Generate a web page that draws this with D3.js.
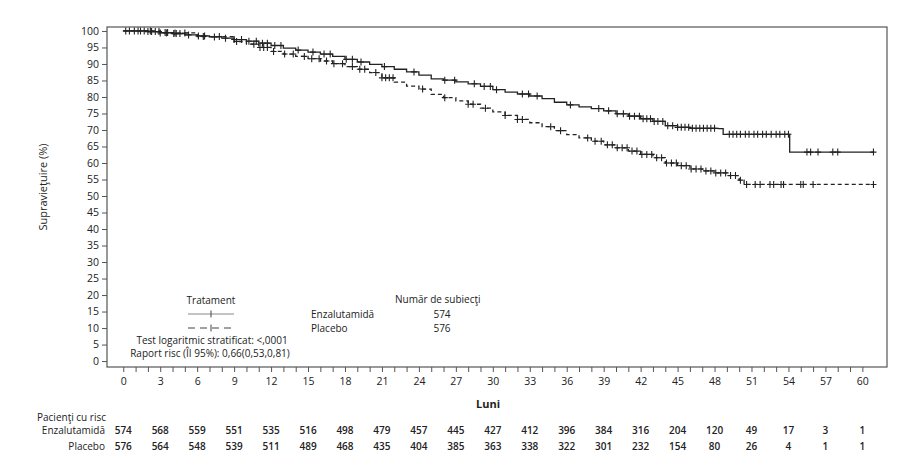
<!DOCTYPE html>
<html>
<head>
<meta charset="utf-8">
<script src="https://cdn.jsdelivr.net/npm/d3@7"></script>
<style>
  body { margin: 0; background: #fff; }
  text { font-family: "Open Sans", "Noto Sans", sans-serif; fill: #222; }
</style>
</head>
<body>
<div id="chart"></div>
<script>
// Kaplan-Meier steps: [month, survival %]
var enzaSteps = [[0,100],[1,100],[2,99.8],[3,99.5],[4,99.2],[5,98.8],[6,98.5],[7,98.2],[8,97.8],[9,97.4],[10,96.9],[11,96.3],[12,95.6],[13,94.8],[14,94.2],[15,93.6],[16,93.0],[17,92.3],[18,91.4],[19,90.6],[20,89.9],[21,89.2],[22,88.4],[23,87.6],[24,86.6],[25,85.5],[26,85.1],[27,84.6],[28,84.0],[29,83.2],[30,82.2],[31,81.5],[32,80.9],[33,80.3],[34,79.5],[35,78.4],[36,77.6],[37,77.0],[38,76.5],[39,75.8],[40,74.9],[41,74.2],[42,73.4],[43,72.6],[44,71.3],[45,70.8],[46,70.5],[48.3,70.4],[48.7,68.7],[54.1,63.3],[60.9,63.3]];
var placeboSteps = [[0,100],[3,99.4],[6,98.3],[9,96.8],[10,96.0],[11,95.0],[12,93.8],[13,93.0],[14,92.3],[15,91.6],[16,90.9],[17,90.1],[18,89.2],[19,88.4],[20,87.4],[21,85.8],[22,84.5],[23,83.3],[24,82.4],[25,80.8],[26,79.8],[27,78.8],[28,77.8],[29,76.6],[30,75.5],[31,74.4],[32,73.2],[33,72.2],[34,71.0],[35,69.8],[36,68.6],[37,67.6],[38,66.6],[39,65.5],[40,64.6],[41,63.6],[42,62.6],[43,61.6],[44,60.0],[45,59.2],[46,58.2],[47,57.6],[48,57.0],[49,56.2],[50,54.8],[50.4,53.5],[60.9,53.5]];

// censor times (months)
var enzaCensor = [0.2,0.9,1.4,1.7,2.0,2.3,2.6,2.9,3.4,3.6,4.1,4.3,4.6,5.3,6.1,6.6,7.4,8.3,9.0,9.6,10.2,10.8,11.3,11.7,12.3,12.8,14.2,15.4,16.3,16.8,18.1,18.6,19.3,21.2,23.6,26.1,26.9,28.5,29.3,29.8,30.3,32.4,32.9,33.6,36.3,38.6,39.4,40.1,40.6,41.1,41.5,41.9,42.2,42.5,42.8,43.1,43.4,43.8,44.2,44.6,45.0,45.3,45.6,45.9,46.2,46.5,46.8,47.1,47.4,47.7,48.0,49.2,49.5,49.8,50.1,50.5,50.8,51.2,51.5,51.9,52.2,52.6,53.0,53.3,53.7,54.0,55.5,55.8,56.4,57.6,58.0,60.9];
var placeboCensor = [0.5,1.2,2.2,3.0,3.5,4.2,5.0,6.5,7.8,9.2,10.6,11.1,11.4,11.7,12.2,13.1,13.8,14.7,15.3,15.9,16.5,17.1,17.8,18.6,19.2,19.6,20.5,21.0,21.3,21.6,21.9,24.3,26.1,28.0,28.4,29.4,31.0,32.0,32.4,34.7,35.5,37.7,38.3,38.8,39.3,39.7,40.1,40.5,40.9,41.3,41.7,42.1,42.5,42.9,43.3,43.7,44.1,44.5,44.9,45.3,45.7,46.1,46.5,46.9,47.3,47.7,48.1,48.5,48.9,49.3,49.7,50.1,50.6,51.3,51.7,52.5,52.8,53.4,53.6,55.0,55.2,56.0,60.9];

var riskMonths = [0,3,6,9,12,15,18,21,24,27,30,33,36,39,42,45,48,51,54,57,60];
var enzaRisk = [574,568,559,551,535,516,498,479,457,445,427,412,396,384,316,204,120,49,17,3,1];
var placeboRisk = [576,564,548,539,511,489,468,435,404,385,363,338,322,301,232,154,80,26,4,1,1];
var groups = ["Enzalutamidă", "Placebo"];
var groupN = [574, 576];

var W = 920, H = 475;
var svg = d3.select("#chart").append("svg").attr("width", W).attr("height", H);

var x = d3.scaleLinear().domain([-1.32, 62.0]).range([107, 887]);
var y = d3.scaleLinear().domain([-1.8, 101.2]).range([367, 27]);

// frame
svg.append("rect")
  .attr("x", 107).attr("y", 27).attr("width", 780).attr("height", 340)
  .attr("fill", "none").attr("stroke", "#555").attr("stroke-width", 1.2);

// y axis
var yAxis = svg.append("g").attr("transform", "translate(107,0)")
  .call(d3.axisLeft(y).tickValues(d3.range(0, 101, 5)).tickSize(5).tickPadding(3));
yAxis.select(".domain").remove();
yAxis.selectAll("line").attr("stroke", "#555");
yAxis.selectAll("text").style("font-size", "10.5px");

// x axis: ticks every month, labels every 3
var xAxis = svg.append("g").attr("transform", "translate(0,367)")
  .call(d3.axisBottom(x).tickValues(d3.range(0, 61, 1)).tickSize(5).tickPadding(6)
    .tickFormat(function(d) { return d % 3 === 0 ? d : ""; }));
xAxis.select(".domain").remove();
xAxis.selectAll("line").attr("stroke", "#555");
xAxis.selectAll("text").style("font-size", "10.5px");

svg.append("text").attr("x", 488).attr("y", 408).attr("text-anchor", "middle")
  .style("font-size", "11px").style("font-weight", "bold").text("Luni");

svg.append("text")
  .attr("transform", "translate(47,187) rotate(-90)")
  .attr("text-anchor", "middle").style("font-size", "11px")
  .text("Supravieţuire (%)");

// curves
var line = d3.line().curve(d3.curveStepAfter)
  .x(function(d) { return x(d[0]); }).y(function(d) { return y(d[1]); });

function survAt(steps, t) {
  var v = steps[0][1];
  for (var i = 0; i < steps.length; i++) { if (steps[i][0] <= t) v = steps[i][1]; }
  return v;
}

function drawArm(steps, censor, dash) {
  svg.append("path").datum(steps)
    .attr("d", line).attr("fill", "none").attr("stroke", "#222")
    .attr("stroke-width", 1.3).attr("stroke-dasharray", dash);
  var g = svg.append("g");
  censor.forEach(function(t) {
    var cx = x(t), cy = y(survAt(steps, t));
    g.append("path")
      .attr("d", "M" + (cx - 3) + "," + cy + "H" + (cx + 3) + "M" + cx + "," + (cy - 3.5) + "V" + (cy + 3.5))
      .attr("stroke", "#222").attr("stroke-width", 1.1);
  });
}
drawArm(enzaSteps, enzaCensor, null);
drawArm(placeboSteps, placeboCensor, "4,3");

// legend
var fs = "10px";
svg.append("text").attr("x", 211).attr("y", 304).attr("text-anchor", "middle").style("font-size", fs).text("Tratament");
[314, 328].forEach(function(ly, i) {
  svg.append("line").attr("x1", 188).attr("x2", 234).attr("y1", ly).attr("y2", ly)
    .attr("stroke", i === 0 ? "#888" : "#444").attr("stroke-width", 1)
    .attr("stroke-dasharray", i === 0 ? null : "7,5");
  svg.append("line").attr("x1", 211).attr("x2", 211).attr("y1", ly - 3.5).attr("y2", ly + 3.5)
    .attr("stroke", "#444").attr("stroke-width", 1);
  svg.append("text").attr("x", 311).attr("y", ly + 4).style("font-size", fs).text(groups[i]);
  svg.append("text").attr("x", 442).attr("y", ly + 4).attr("text-anchor", "middle").style("font-size", fs).text(groupN[i]);
});
svg.append("text").attr("x", 395).attr("y", 303).style("font-size", fs).text("Număr de subiecţi");
svg.append("text").attr("x", 212).attr("y", 344).attr("text-anchor", "middle").style("font-size", fs)
  .text("Test logaritmic stratificat: <,0001");
svg.append("text").attr("x", 210).attr("y", 357).attr("text-anchor", "middle").style("font-size", fs)
  .text("Raport risc (ÎI 95%): 0,66(0,53,0,81)");

// patients at risk
svg.append("text").attr("x", 37).attr("y", 421).style("font-size", fs).text("Pacienţi cu risc");
[[enzaRisk, 434], [placeboRisk, 450]].forEach(function(r, i) {
  svg.append("text").attr("x", 105).attr("y", r[1]).attr("text-anchor", "end").style("font-size", fs).text(groups[i]);
  svg.selectAll(null).data(r[0]).enter().append("text")
    .attr("x", function(d, j) { return x(riskMonths[j]); })
    .attr("y", r[1]).attr("text-anchor", "middle")
    .style("font-size", "10px").style("font-weight", "600")
    .text(function(d) { return d; });
});
</script>
</body>
</html>
